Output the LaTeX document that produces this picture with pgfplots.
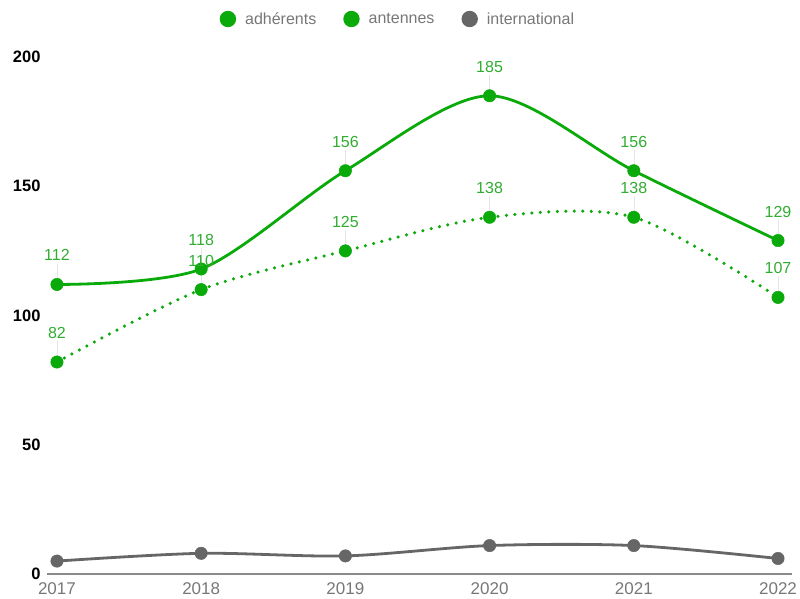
\documentclass[border=0pt]{standalone}
\usepackage{fontspec}
\setmainfont{Liberation Sans}
\usepackage{pgfplots}
\pgfplotsset{compat=1.18}
\definecolor{grn}{HTML}{0BAA0B}
\definecolor{grnlab}{HTML}{30AD30}
\definecolor{gry}{HTML}{666666}
\definecolor{txtgry}{HTML}{777777}
\definecolor{axgry}{HTML}{8A8A8A}
\begin{document}
\begin{tikzpicture}
\begin{axis}[
  scale only axis, width=745pt, height=517pt,
  xmin=2016.931, xmax=2022.097, ymin=0, ymax=200,
  axis x line*=bottom, axis y line*=left,
  y axis line style={draw=none},
  x axis line style={draw=axgry, line width=1.5pt, -},
  major tick length=0pt, tick style={draw=none},
  xtick={2017,2018,2019,2020,2021,2022},
  xticklabels={2017,2018,2019,2020,2021,2022},
  ytick={0,50,100,150,200},
  xticklabel style={font=\fontsize{17}{20}\selectfont, text=txtgry, yshift=-5pt},
  yticklabel style={font=\fontsize{16.5}{19}\selectfont\bfseries, text=black, xshift=-3pt},
  /pgf/number format/assume math mode=true,
  clip=false,
  legend style={at={(0.4710,1.0735)}, anchor=center, draw=none, fill=none,
    font=\fontsize{16}{19}\selectfont, text=txtgry,
    /tikz/every odd column/.append style={column sep=7pt},
    /tikz/every even column/.append style={column sep=25pt}},
  legend columns=3,
  every node near coord/.append style={font=\fontsize{16}{19}\selectfont, text=grnlab, anchor=base, yshift=23.5pt},
]
\addplot[grn, line width=2.8pt, smooth, tension=0.5, mark=*, mark size=6.2pt, mark options={fill=grn, draw=grn, solid, line width=0.5pt},
  nodes near coords,
  error bars/.cd, y dir=plus, y fixed=8, error mark=none, error bar style={line width=0.5pt, black!10, solid},
  /pgfplots/legend image code/.code={\path[fill=grn, draw=none, solid] (0pt,0pt) circle (8.2pt);}]
  coordinates {(2017,112) (2018,118) (2019,156) (2020,185) (2021,156) (2022,129)};
\addlegendentry{adhérents}
\addplot[grn, line width=3.5pt, line cap=round, dash pattern=on 0pt off 8.5pt, smooth, tension=0.5, mark=*, mark size=6.2pt, mark options={fill=grn, draw=grn, solid, line width=0.5pt},
  nodes near coords,
  error bars/.cd, y dir=plus, y fixed=8, error mark=none, error bar style={line width=0.5pt, black!10, solid},
  /pgfplots/legend image code/.code={\path[fill=grn, draw=none, solid] (0pt,0pt) circle (8.2pt);}]
  coordinates {(2017,82) (2018,110) (2019,125) (2020,138) (2021,138) (2022,107)};
\addlegendentry{antennes}
\addplot[gry, line width=2.8pt, smooth, tension=0.5, mark=*, mark size=6.2pt, mark options={fill=gry, draw=gry, solid, line width=0.5pt},
  /pgfplots/legend image code/.code={\path[fill=gry, draw=none, solid] (0pt,0pt) circle (8.2pt);}]
  coordinates {(2017,5) (2018,8) (2019,7) (2020,11) (2021,11) (2022,6)};
\addlegendentry{international}
\end{axis}
\pgfresetboundingbox
\path (-47pt,-24pt) rectangle (753pt,574pt);
\end{tikzpicture}
\end{document}
